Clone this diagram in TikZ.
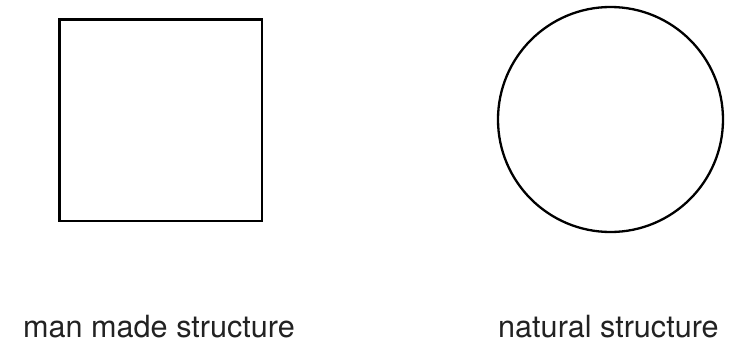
\documentclass[tikz,border=0pt]{standalone}
\usepackage{fontspec}
\setmainfont{TeX Gyre Heros}
\definecolor{txt}{HTML}{222222}
\begin{document}
\begin{tikzpicture}[x=1pt,y=-1pt,
  shape line/.style={draw=black,line width=2.3pt},
  caption/.style={anchor=base west,inner sep=0pt,text=txt,font=\fontsize{30.6}{36}\selectfont}]
\useasboundingbox (0,0) rectangle (732,348);
\node[shape line,rectangle,minimum width=202.5pt,minimum height=201.5pt,inner sep=0pt] (square) at (160.75,120.25) {};
\node[shape line,circle,minimum size=225pt,inner sep=0pt] (round) at (610.5,119.5) {};
\node[caption] (lbl1) at (23,337) {man made structure};
\node[caption] (lbl2) at (498,337) {natural structure};
\end{tikzpicture}
\end{document}
